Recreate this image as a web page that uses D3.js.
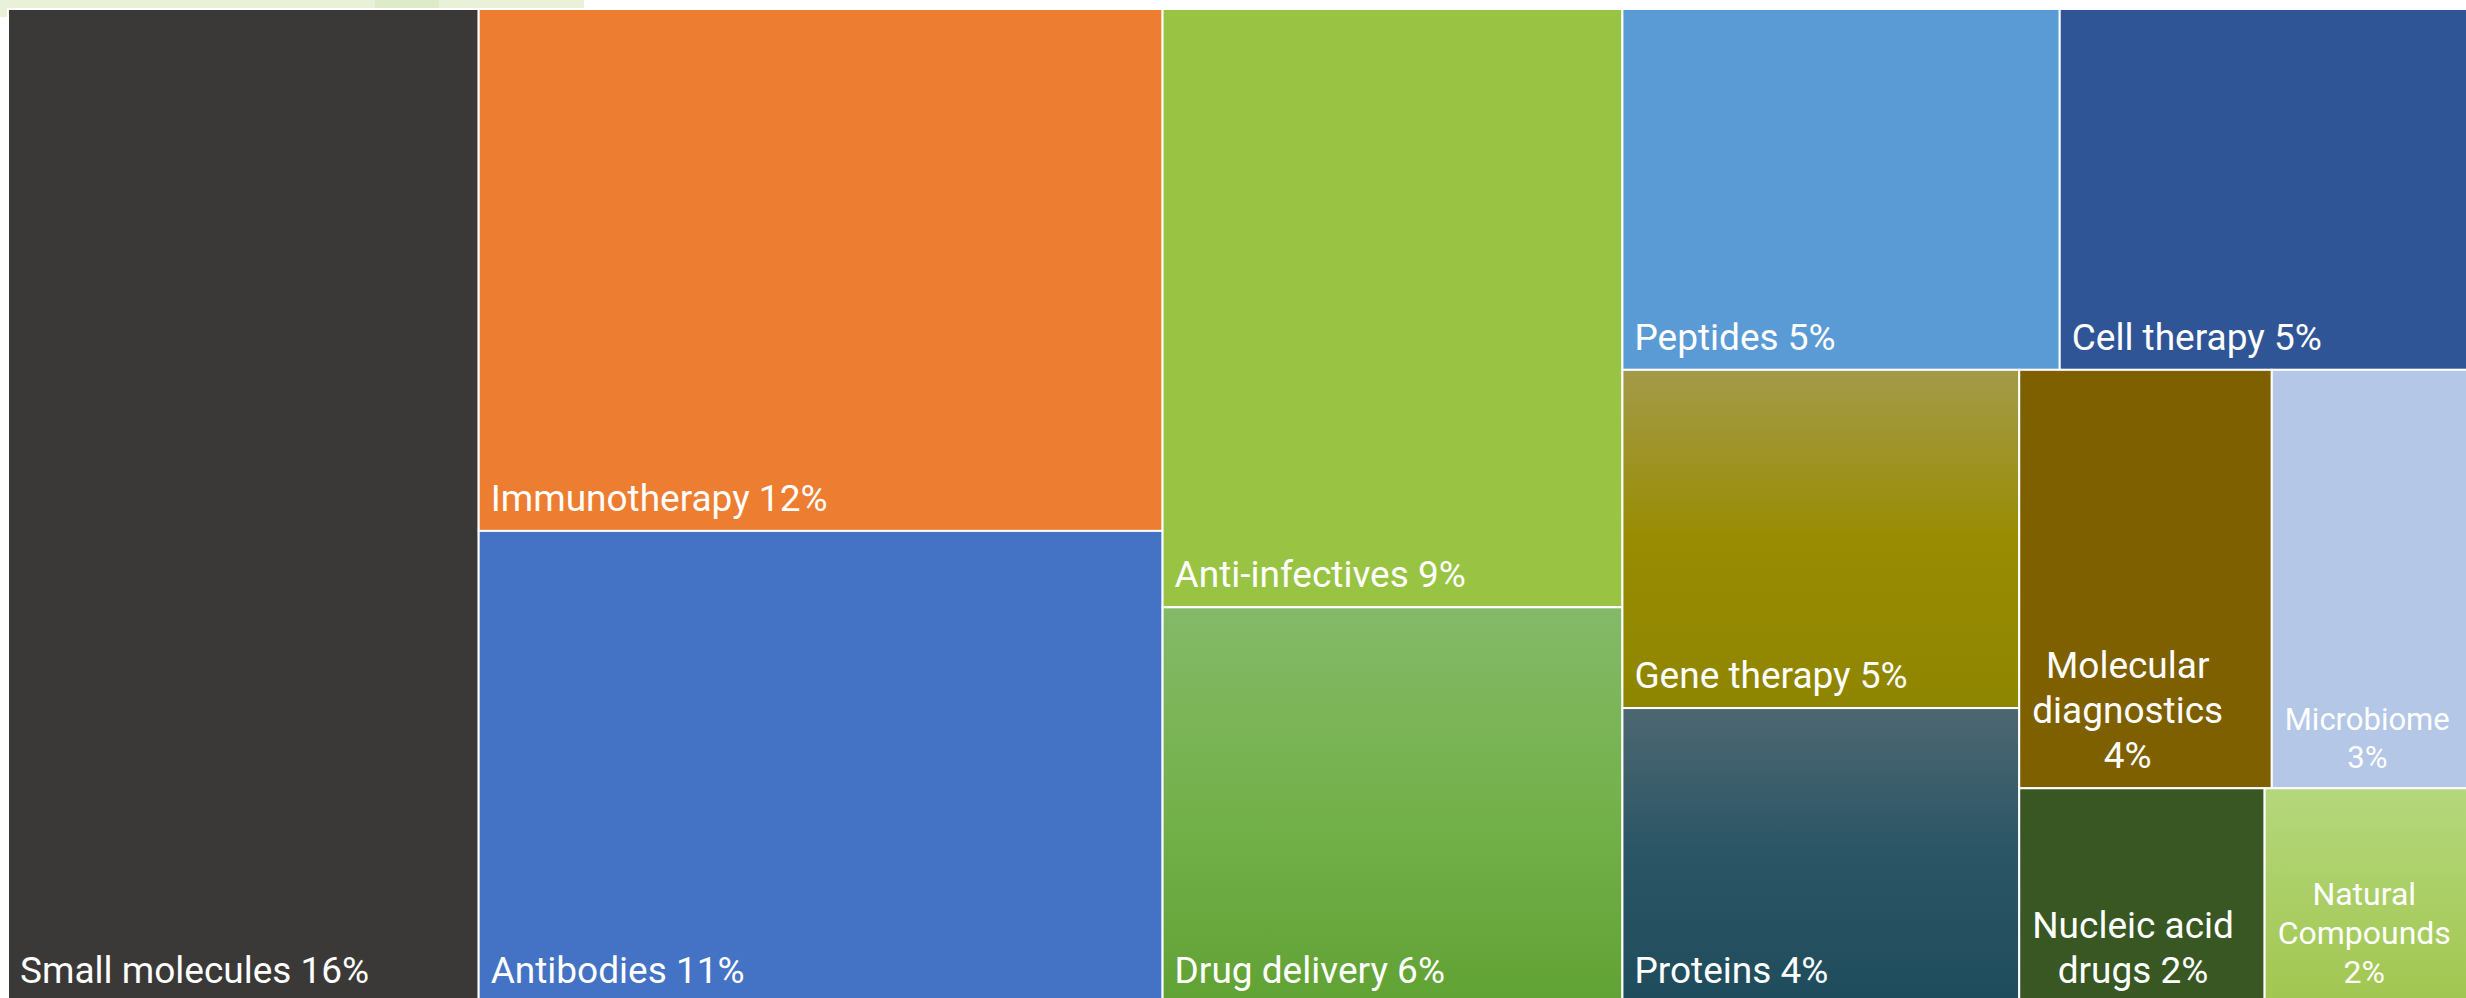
<!DOCTYPE html>
<html>
<head>
<meta charset="utf-8">
<script src="https://d3js.org/d3.v7.min.js"></script>
<style>
    body { margin: 0; background: #fff; }
    svg { display: block; font-family: Roboto, "Noto Sans", sans-serif; }
</style>
</head>
<body>
<svg width="2466" height="998"></svg>
<script>
    const categories = ["Small molecules", "Immunotherapy", "Antibodies", "Anti-infectives", "Drug delivery",
        "Peptides", "Cell therapy", "Gene therapy", "Proteins", "Molecular diagnostics",
        "Microbiome", "Nucleic acid drugs", "Natural Compounds"];
    // relative tile sizes
    const shares = [16.07, 12.26, 11.09, 9.45, 6.25, 5.42, 5.06, 4.61, 4.02, 3.63, 2.82, 1.81, 1.50];
    // percentages printed in the labels
    const pctLabels = [16, 12, 11, 9, 6, 5, 5, 5, 4, 4, 3, 2, 2];
    // nesting of the tiles (indices into categories), alternating columns / rows
    const groups = [[0], [1, 2], [3, 4], [[5, 6], [[7, 8], [[9, 10], [11, 12]]]]];

    const fills = ["#3a3937", "#ed7d31", "#4472c4", "#99c443", "grad-drug",
        "#5b9bd5", "#2f5597", "grad-gene", "grad-prot", "#7f6000",
        "#b4c7e7", "#385723", "grad-nat"];
    const gradients = {
        "grad-drug": ["#84b968", "#74b14b", "#61a234"],
        "grad-gene": ["#a39a49", "#998c03", "#8e8500"],
        "grad-prot": ["#4d6772", "#2a5565", "#1f4c5c"],
        "grad-nat": ["#b5d77c", "#abcf66", "#a1c650"]
    };

    const width = 2466, height = 998;
    const marginLeft = 8, marginTop = 9;
    // the chart runs a little past the bottom of the window
    const chartW = width + 2 - marginLeft, chartH = 1003 - marginTop;
    const svg = d3.select("svg");

    // pale strip peeking out above the chart
    svg.append("rect").attr("x", 0).attr("y", 0).attr("width", 584).attr("height", 9).attr("fill", "#e9f2d9");
    svg.append("rect").attr("x", 0).attr("y", 0).attr("width", 8).attr("height", 17).attr("fill", "#e9f2d9");
    svg.append("rect").attr("x", 375).attr("y", 0).attr("width", 64).attr("height", 9).attr("fill", "#deebca");

    const defs = svg.append("defs");
    Object.entries(gradients).forEach(([id, stops]) => {
        const lg = defs.append("linearGradient").attr("id", id)
            .attr("x1", 0).attr("y1", 0).attr("x2", 0).attr("y2", 1);
        stops.forEach((c, i) => lg.append("stop")
            .attr("offset", i / (stops.length - 1)).attr("stop-color", c));
    });

    function build(g) {
        if (typeof g === "number") {
            return { name: categories[g], value: shares[g], pct: pctLabels[g], i: g };
        }
        return { children: g.map(build) };
    }

    const root = d3.hierarchy(build(groups))
        .sum(d => d.value || 0);

    d3.treemap()
        .tile(d3.treemapSliceDice)
        .size([chartW, chartH])(root);

    const chart = svg.append("g")
        .attr("transform", "translate(" + marginLeft + "," + marginTop + ")");

    const cell = chart.selectAll("g.cell")
        .data(root.leaves())
        .enter()
        .append("g")
        .attr("class", "cell");

    cell.append("rect")
        .attr("x", d => d.x0)
        .attr("y", d => d.y0)
        .attr("width", d => d.x1 - d.x0)
        .attr("height", d => d.y1 - d.y0)
        .attr("fill", d => {
            const f = fills[d.data.i];
            return f.startsWith("grad") ? "url(#" + f + ")" : f;
        })
        .attr("stroke", "#fff")
        .attr("stroke-width", 2);

    const baseSize = 37, pad = 13;
    const probe = svg.append("text").attr("font-size", baseSize);
    const measure = s => { probe.text(s); return probe.node().getComputedTextLength(); };

    cell.each(function (d) {
        const g = d3.select(this);
        const avail = d.x1 - d.x0 - 2 * pad;
        const full = d.data.name + " " + d.data.pct + "%";
        let size = baseSize;
        if (measure(full) <= avail) {
            g.append("text")
                .attr("x", d.x0 + 12)
                .attr("y", d.y1 - 20)
                .attr("font-size", size)
                .attr("fill", "#fff")
                .text(full);
            return;
        }
        const words = full.split(" ");
        const widest = d3.max(words, measure);
        if (widest > avail) size = Math.floor(baseSize * avail / widest);
        const k = size / baseSize;
        const lines = [];
        let cur = "";
        words.forEach(w => {
            const next = cur ? cur + " " + w : w;
            if (cur && measure(next) * k > avail) {
                lines.push(cur);
                cur = w;
            } else {
                cur = next;
            }
        });
        lines.push(cur);
        const blockW = d3.max(lines, measure) * k;
        const lh = size * 1.22;
        const cx = d.x0 + pad + blockW / 2;
        lines.forEach((l, j) => {
            g.append("text")
                .attr("x", cx)
                .attr("y", d.y1 - 20 - (lines.length - 1 - j) * lh)
                .attr("font-size", size)
                .attr("text-anchor", "middle")
                .attr("fill", "#fff")
                .text(l);
        });
    });

    probe.remove();
</script>
</body>
</html>
